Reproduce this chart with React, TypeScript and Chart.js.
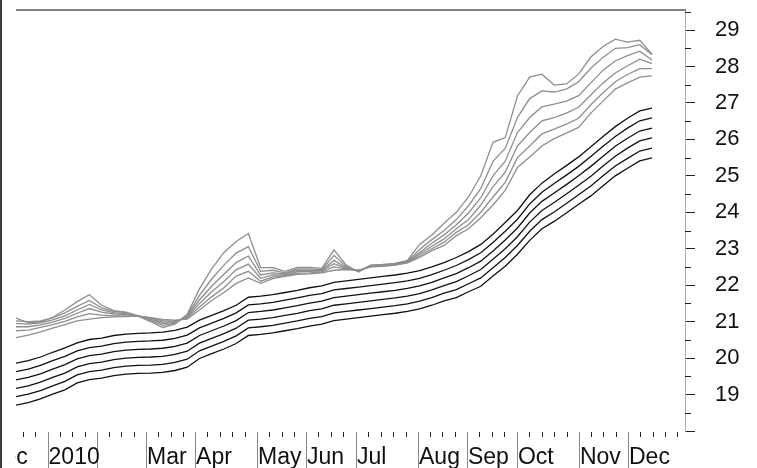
import React, { useEffect, useRef } from "react";
import { Chart, registerables } from "chart.js";
Chart.register(...registerables);

// ---- data (weekly observations, index 0..52) ----
const gray1 = [21.10, 20.97, 20.99, 21.12, 21.32, 21.55, 21.74, 21.45, 21.30, 21.26, 21.15, 21.00, 20.84, 20.93, 21.20, 21.90, 22.45, 22.90, 23.20, 23.42, 22.48, 22.48, 22.38, 22.49, 22.49, 22.46, 22.97, 22.55, 22.36, 22.55, 22.57, 22.60, 22.68, 23.12, 23.38, 23.70, 24.00, 24.42, 25.00, 25.92, 26.05, 27.19, 27.71, 27.79, 27.49, 27.52, 27.79, 28.26, 28.55, 28.75, 28.67, 28.72, 28.34];
const gray2 = [21.02, 21.00, 21.02, 21.10, 21.24, 21.42, 21.58, 21.38, 21.28, 21.25, 21.16, 21.03, 20.90, 20.96, 21.17, 21.72, 22.17, 22.55, 22.88, 23.06, 22.38, 22.41, 22.34, 22.45, 22.45, 22.43, 22.82, 22.51, 22.38, 22.54, 22.56, 22.59, 22.66, 22.98, 23.25, 23.50, 23.80, 24.18, 24.65, 25.40, 25.75, 26.60, 27.12, 27.33, 27.30, 27.38, 27.58, 27.95, 28.25, 28.50, 28.52, 28.60, 28.32];
const gray3 = [20.95, 20.93, 20.97, 21.05, 21.16, 21.32, 21.47, 21.32, 21.25, 21.22, 21.16, 21.06, 20.95, 20.98, 21.14, 21.60, 21.97, 22.30, 22.62, 22.80, 22.28, 22.34, 22.31, 22.41, 22.41, 22.41, 22.68, 22.48, 22.39, 22.53, 22.55, 22.58, 22.64, 22.90, 23.15, 23.38, 23.66, 23.98, 24.40, 25.00, 25.40, 26.19, 26.60, 26.89, 26.97, 27.05, 27.20, 27.55, 27.90, 28.15, 28.30, 28.42, 28.18];
const gray4 = [20.86, 20.86, 20.91, 20.99, 21.09, 21.23, 21.36, 21.26, 21.21, 21.19, 21.15, 21.08, 20.99, 21.00, 21.12, 21.50, 21.82, 22.10, 22.42, 22.58, 22.19, 22.28, 22.28, 22.37, 22.38, 22.39, 22.59, 22.46, 22.40, 22.52, 22.54, 22.57, 22.63, 22.85, 23.07, 23.27, 23.55, 23.80, 24.20, 24.70, 25.10, 25.82, 26.19, 26.51, 26.60, 26.72, 26.88, 27.22, 27.55, 27.82, 28.02, 28.20, 28.08];
const gray5 = [20.75, 20.77, 20.84, 20.92, 21.01, 21.13, 21.22, 21.18, 21.16, 21.16, 21.15, 21.10, 21.03, 21.02, 21.10, 21.40, 21.68, 21.93, 22.25, 22.38, 22.11, 22.23, 22.26, 22.33, 22.34, 22.36, 22.50, 22.45, 22.41, 22.51, 22.53, 22.56, 22.62, 22.80, 23.00, 23.18, 23.45, 23.66, 24.00, 24.42, 24.82, 25.50, 25.82, 26.15, 26.28, 26.42, 26.58, 26.95, 27.28, 27.58, 27.78, 27.94, 27.94];
const gray6 = [20.56, 20.63, 20.72, 20.82, 20.92, 21.02, 21.07, 21.11, 21.13, 21.14, 21.15, 21.11, 21.06, 21.04, 21.07, 21.32, 21.58, 21.80, 22.05, 22.20, 22.05, 22.18, 22.24, 22.30, 22.31, 22.34, 22.41, 22.43, 22.41, 22.50, 22.52, 22.55, 22.61, 22.76, 22.95, 23.09, 23.36, 23.55, 23.85, 24.20, 24.60, 25.23, 25.52, 25.82, 26.02, 26.17, 26.33, 26.72, 27.05, 27.38, 27.55, 27.71, 27.74];

const black1 = [19.86, 19.93, 20.03, 20.16, 20.28, 20.42, 20.51, 20.55, 20.62, 20.66, 20.68, 20.69, 20.71, 20.76, 20.85, 21.04, 21.17, 21.30, 21.45, 21.67, 21.70, 21.74, 21.80, 21.86, 21.93, 21.98, 22.08, 22.12, 22.16, 22.20, 22.24, 22.28, 22.33, 22.40, 22.50, 22.62, 22.76, 22.92, 23.12, 23.40, 23.72, 24.05, 24.48, 24.80, 25.05, 25.28, 25.52, 25.80, 26.08, 26.35, 26.58, 26.78, 26.86];
const black2 = [19.63, 19.70, 19.80, 19.93, 20.05, 20.20, 20.29, 20.33, 20.40, 20.44, 20.46, 20.47, 20.49, 20.54, 20.63, 20.83, 20.96, 21.09, 21.24, 21.46, 21.49, 21.53, 21.59, 21.65, 21.72, 21.77, 21.87, 21.91, 21.95, 21.99, 22.03, 22.07, 22.12, 22.19, 22.29, 22.41, 22.54, 22.70, 22.89, 23.17, 23.48, 23.81, 24.23, 24.55, 24.79, 25.02, 25.26, 25.53, 25.81, 26.08, 26.31, 26.51, 26.59];
const black3 = [19.40, 19.47, 19.57, 19.70, 19.82, 19.98, 20.07, 20.11, 20.18, 20.22, 20.24, 20.25, 20.27, 20.32, 20.41, 20.62, 20.75, 20.88, 21.03, 21.25, 21.28, 21.32, 21.38, 21.44, 21.51, 21.56, 21.66, 21.70, 21.74, 21.78, 21.82, 21.86, 21.91, 21.98, 22.08, 22.20, 22.32, 22.48, 22.66, 22.94, 23.24, 23.57, 23.98, 24.30, 24.53, 24.76, 25.00, 25.26, 25.54, 25.81, 26.03, 26.23, 26.31];
const black4 = [19.17, 19.24, 19.34, 19.47, 19.59, 19.76, 19.85, 19.89, 19.96, 20.00, 20.02, 20.03, 20.05, 20.10, 20.19, 20.41, 20.54, 20.67, 20.82, 21.04, 21.07, 21.11, 21.17, 21.23, 21.30, 21.35, 21.45, 21.49, 21.53, 21.57, 21.61, 21.65, 21.70, 21.77, 21.87, 21.99, 22.10, 22.26, 22.43, 22.71, 23.00, 23.33, 23.73, 24.05, 24.27, 24.50, 24.74, 24.99, 25.27, 25.54, 25.76, 25.96, 26.04];
const black5 = [18.94, 19.01, 19.11, 19.24, 19.36, 19.54, 19.63, 19.67, 19.74, 19.78, 19.80, 19.81, 19.83, 19.88, 19.97, 20.20, 20.33, 20.46, 20.61, 20.83, 20.86, 20.90, 20.96, 21.02, 21.09, 21.14, 21.24, 21.28, 21.32, 21.36, 21.40, 21.44, 21.49, 21.56, 21.66, 21.78, 21.88, 22.04, 22.20, 22.48, 22.76, 23.09, 23.48, 23.80, 24.01, 24.24, 24.48, 24.72, 25.00, 25.27, 25.48, 25.68, 25.76];
const black6 = [18.71, 18.78, 18.88, 19.01, 19.13, 19.32, 19.41, 19.45, 19.52, 19.56, 19.58, 19.59, 19.61, 19.66, 19.75, 19.99, 20.12, 20.25, 20.40, 20.62, 20.65, 20.69, 20.75, 20.81, 20.88, 20.93, 21.03, 21.07, 21.11, 21.15, 21.19, 21.23, 21.28, 21.35, 21.45, 21.57, 21.66, 21.82, 21.97, 22.25, 22.52, 22.85, 23.23, 23.55, 23.75, 23.98, 24.22, 24.45, 24.73, 25.00, 25.21, 25.41, 25.49];

// ---- axis definitions ----
const monthLabels = ["Dec", "2010", "Feb", "Mar", "Apr", "May", "Jun", "Jul", "Aug", "Sep", "Oct", "Nov", "Dec"];
const monthStarts = [-2.47, 2.58, 6.62, 10.63, 14.64, 19.71, 23.71, 27.8, 32.87, 36.87, 40.96, 46.03, 50.04];
const weeksInMonth = [5, 4, 4, 4, 5, 4, 4, 5, 4, 4, 5, 4, 5];
const lastEdge = 55.09;
const yTickValues = [18, 19, 20, 21, 22, 23, 24, 25, 26, 27, 28, 29];
const yTickLabels = ["", "19", "20", "21", "22", "23", "24", "25", "26", "27", "28", "29"];
const yMinorTicks = [18.5, 19.5, 20.5, 21.5, 22.5, 23.5, 24.5, 25.5, 26.5, 27.5, 28.5, 29.5];

const FONT = "'Liberation Sans', Arial, Helvetica, sans-serif";

const axisPlugin = {
  id: "customAxes",
  afterDraw(chart: any) {
    const { ctx, chartArea: ca, scales } = chart;
    const xs = scales.x;
    const ys = scales.y;
    const H = chart.height;
    ctx.save();
    // left dark border
    ctx.fillStyle = "#3a3a3a";
    ctx.fillRect(0, 0, 2, H);
    // top frame line
    ctx.strokeStyle = "#5a5a5a";
    ctx.lineWidth = 1.6;
    ctx.beginPath();
    ctx.moveTo(ca.left, ca.top);
    ctx.lineTo(ca.right + 1, ca.top);
    ctx.stroke();
    // y minor ticks
    ctx.strokeStyle = "#222";
    ctx.lineWidth = 1;
    for (const v of yMinorTicks) {
      const y = Math.round(ys.getPixelForValue(v)) + 0.5;
      if (y < ca.top || y > ca.bottom + 1) continue;
      ctx.beginPath();
      ctx.moveTo(ca.right, y);
      ctx.lineTo(ca.right + 6, y);
      ctx.stroke();
    }
    // x axis ticks (clipped to plot width)
    ctx.save();
    ctx.beginPath();
    ctx.rect(ca.left - 1, ca.bottom, ca.right - ca.left + 1, H - ca.bottom);
    ctx.clip();
    const top = ca.bottom + 1;
    for (let k = 0; k < monthStarts.length; k++) {
      const s = monthStarts[k];
      const e = k + 1 < monthStarts.length ? monthStarts[k + 1] : lastEdge;
      const n = weeksInMonth[k];
      const mx = Math.round(xs.getPixelForValue(s)) + 0.5;
      ctx.strokeStyle = "#888";
      ctx.lineWidth = 1;
      ctx.beginPath();
      ctx.moveTo(mx, top);
      ctx.lineTo(mx, H);
      ctx.stroke();
      ctx.strokeStyle = "#222";
      for (let j = 1; j < n; j++) {
        const px = Math.round(xs.getPixelForValue(s + (j * (e - s)) / n)) + 0.5;
        ctx.beginPath();
        ctx.moveTo(px, top);
        ctx.lineTo(px, top + 5);
        ctx.stroke();
      }
    }
    ctx.restore();
    // x labels
    ctx.save();
    ctx.beginPath();
    ctx.rect(ca.left - 1, ca.bottom, ca.right - ca.left + 20, H - ca.bottom);
    ctx.clip();
    ctx.font = `23px ${FONT}`;
    ctx.fillStyle = "#111";
    ctx.textBaseline = "alphabetic";
    ctx.textAlign = "left";
    let prevEnd = -1e9;
    for (let k = 0; k < monthStarts.length; k++) {
      const x = xs.getPixelForValue(monthStarts[k]) + 1;
      const w = ctx.measureText(monthLabels[k]).width;
      if (x < prevEnd + 3) continue;
      ctx.fillText(monthLabels[k], x, H - 4);
      prevEnd = x + w;
    }
    ctx.restore();
    ctx.restore();
  },
};

const series = [
  { data: gray1, color: "#8e8e8e" },
  { data: gray2, color: "#8e8e8e" },
  { data: gray3, color: "#8e8e8e" },
  { data: gray4, color: "#8e8e8e" },
  { data: gray5, color: "#8e8e8e" },
  { data: gray6, color: "#8e8e8e" },
  { data: black1, color: "#111111" },
  { data: black2, color: "#111111" },
  { data: black3, color: "#111111" },
  { data: black4, color: "#111111" },
  { data: black5, color: "#111111" },
  { data: black6, color: "#111111" },
];

export default function App() {
  const ref = useRef<HTMLCanvasElement>(null);
  useEffect(() => {
    if (!ref.current) return;
    const chart = new Chart(ref.current, {
      type: "line",
      data: {
        datasets: series.map((s) => ({
          data: s.data.map((y, i) => ({ x: i, y })),
          borderColor: s.color,
          borderWidth: 1.3,
          pointRadius: 0,
          tension: 0,
          fill: false,
        })),
      },
      options: {
        responsive: false,
        devicePixelRatio: 1,
        animation: false,
        layout: { autoPadding: false, padding: { left: 16, top: 10, right: 0, bottom: 37 } },
        plugins: { legend: { display: false }, tooltip: { enabled: false } },
        scales: {
          x: { type: "linear", min: 0, max: 54.7, display: false },
          y: {
            position: "right",
            min: 18,
            max: 29.55,
            afterBuildTicks: (s: any) => {
              s.ticks = yTickValues.map((v) => ({ value: v }));
            },
            afterFit: (s: any) => {
              s.width = 72;
              s.paddingTop = 0;
              s.paddingBottom = 0;
            },
            grid: { drawOnChartArea: false, tickLength: 10, tickColor: "#222", color: "#222" },
            border: { display: true, color: "#aaaaaa", width: 1 },
            ticks: {
              autoSkip: false,
              padding: 20,
              color: "#111",
              font: { family: FONT, size: 22 },
              callback: (_v: any, idx: number) => yTickLabels[idx],
            },
          },
        },
      },
      plugins: [axisPlugin],
    } as any);
    return () => chart.destroy();
  }, []);
  return (
    <div style={{ position: "fixed", left: 0, top: 0, width: 757, height: 468, background: "#fff" }}>
      <canvas ref={ref} width={757} height={468} style={{ display: "block" }} />
    </div>
  );
}
